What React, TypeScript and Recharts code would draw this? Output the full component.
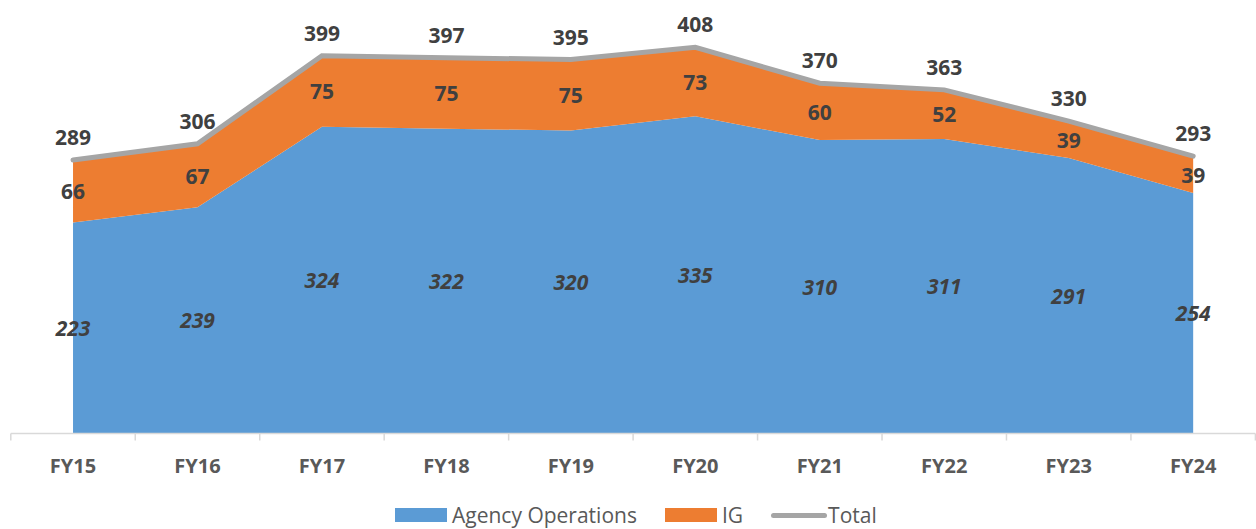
import React from "react";
import { ComposedChart, Area, Line, XAxis, YAxis, LabelList } from "recharts";

const categories = ["FY15", "FY16", "FY17", "FY18", "FY19", "FY20", "FY21", "FY22", "FY23", "FY24"];
const agencyOps = [223, 239, 324, 322, 320, 335, 310, 311, 291, 254];
const igValues = [66, 67, 75, 75, 75, 73, 60, 52, 39, 39];
const totals = [289, 306, 399, 397, 395, 408, 370, 363, 330, 293];
const legendItems = [
  { name: "Agency Operations", color: "#5B9BD5", kind: "rect" },
  { name: "IG", color: "#ED7D31", kind: "rect" },
  { name: "Total", color: "#A5A5A5", kind: "line" },
];

const data = categories.map((c, i) => ({
  fy: c,
  agency: agencyOps[i],
  ig: igValues[i],
  total: totals[i],
}));

const W = 1256;
const H = 529;
const M = { top: 7.5, right: 0.6, left: 10.8, bottom: 0 };
const AXIS_H = 95.5;
const Y_MAX = 450;
const plotW = W - M.left - M.right;
const plotH = H - M.top - M.bottom - AXIS_H;
const half = plotW / categories.length / 2;
const k = plotH / Y_MAX;
const FONT = "'Open Sans', 'Noto Sans', sans-serif";
const LABEL_COLOR = "#404040";

const Tick = (props: any) => {
  const { x, y, payload, index } = props;
  const last = index === categories.length - 1;
  return (
    <g>
      <line x1={x - half} x2={x - half} y1={y} y2={y + 7} stroke="#D9D9D9" strokeWidth={1.5} />
      {last && <line x1={x + half} x2={x + half} y1={y} y2={y + 7} stroke="#D9D9D9" strokeWidth={1.5} />}
      <text x={x} y={y + 32} textAnchor="middle" dominantBaseline="central" fill="#595959" fontFamily={FONT} fontWeight={700} fontSize={20}>
        {payload.value}
      </text>
    </g>
  );
};

const midLabel = (italic: boolean) => (props: any) => {
  const { x, y, value } = props;
  return (
    <text x={x} y={y + (value * k) / 2} textAnchor="middle" dominantBaseline="central" fill={LABEL_COLOR} fontFamily={FONT} fontWeight={700} fontStyle={italic ? "italic" : "normal"} fontSize={21}>
      {value}
    </text>
  );
};

const topLabel = (props: any) => {
  const { x, y, value } = props;
  return (
    <text x={x} y={y - 23} textAnchor="middle" dominantBaseline="central" fill={LABEL_COLOR} fontFamily={FONT} fontWeight={700} fontSize={21}>
      {value}
    </text>
  );
};

export default function App() {
  return (
    <div style={{ position: "absolute", left: 0, top: 0, width: W, height: H, background: "#fff", overflow: "hidden" }}>
      <ComposedChart width={W} height={H} data={data} margin={M}>
        <XAxis
          dataKey="fy"
          padding={{ left: half, right: half }}
          height={AXIS_H}
          tickLine={false}
          tickSize={0}
          tickMargin={0}
          interval={0}
          axisLine={{ stroke: "#D9D9D9", strokeWidth: 1.5 }}
          tick={<Tick />}
        />
        <YAxis hide domain={[0, Y_MAX]} />
        <Area type="linear" dataKey="agency" stackId="1" fill="#5B9BD5" fillOpacity={1} stroke="none" isAnimationActive={false}>
          <LabelList dataKey="agency" content={midLabel(true)} />
        </Area>
        <Area type="linear" dataKey="ig" stackId="1" fill="#ED7D31" fillOpacity={1} stroke="none" isAnimationActive={false}>
          <LabelList dataKey="ig" content={midLabel(false)} />
        </Area>
        <Line type="linear" dataKey="total" stroke="#A5A5A5" strokeWidth={5} strokeLinecap="round" dot={false} isAnimationActive={false}>
          <LabelList dataKey="total" content={topLabel} />
        </Line>
      </ComposedChart>
      <div style={{ position: "absolute", left: 395, top: 503, height: 24, lineHeight: "24px", display: "flex", alignItems: "center", fontFamily: FONT, fontSize: 21, color: "#595959", whiteSpace: "nowrap" }}>
        {legendItems.map((it, i) => (
          <div key={it.name} style={{ display: "flex", alignItems: "center", marginRight: i < legendItems.length - 1 ? 28 : 0 }}>
            {it.kind === "rect" ? (
              <span style={{ display: "inline-block", width: 52, height: 14, background: it.color, marginRight: 5 }} />
            ) : (
              <span style={{ display: "inline-block", width: 56, height: 5, borderRadius: 3, background: it.color, marginRight: 1 }} />
            )}
            <span>{it.name}</span>
          </div>
        ))}
      </div>
    </div>
  );
}
